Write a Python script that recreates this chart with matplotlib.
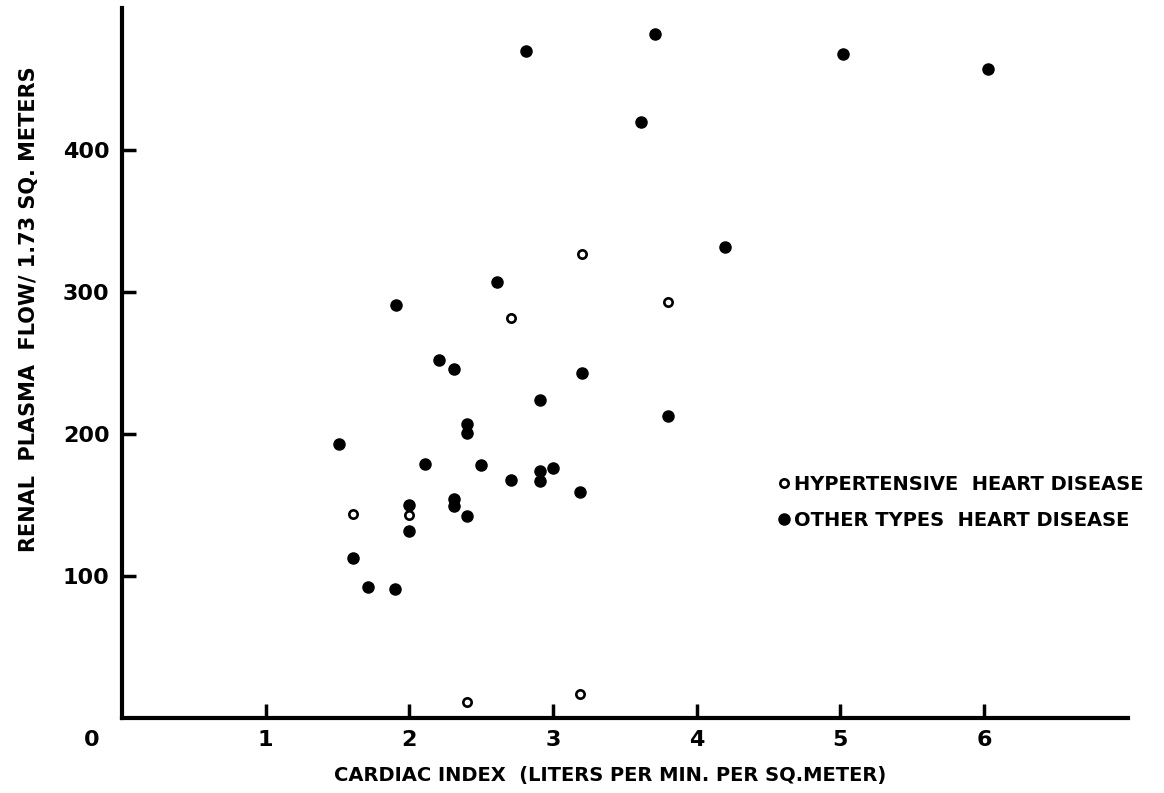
import matplotlib
matplotlib.use("Agg")
from matplotlib import pyplot as plt

# hypertensive heart disease (open circles)
hyp_x = [1.61, 2.00, 2.40, 3.19, 3.20, 3.80, 2.71]
hyp_y = [144, 143, 11, 17, 327, 293, 282]

# other types of heart disease (filled circles)
oth_x = [2.21, 2.31, 3.20, 2.91, 3.80, 2.40, 2.40, 1.51, 2.11, 2.50,
         3.00, 2.91, 2.71, 2.91, 3.19, 2.31, 2.31, 2.00, 2.40, 2.00,
         1.61, 1.71, 1.90, 2.81, 3.71, 3.61, 2.61, 1.91, 5.02, 6.03, 4.20]
oth_y = [252, 246, 243, 224, 213, 207, 201, 193, 179, 178,
         176, 174, 168, 167, 159, 154, 149, 150, 142, 132,
         113, 92, 91, 470, 482, 420, 307, 291, 468, 457, 332]

x_ticks = [1, 2, 3, 4, 5, 6]
y_ticks = [100, 200, 300, 400]

fig = plt.figure(figsize=(11.64, 7.93), dpi=100)
ax = fig.add_axes([0.1048, 0.0946, 0.864, 0.895])

ax.plot(oth_x, oth_y, 'o', color='black', markersize=8, linestyle='none',
        label='OTHER TYPES  HEART DISEASE', zorder=3)
ax.plot(hyp_x, hyp_y, 'o', markerfacecolor='white', markeredgecolor='black',
        markersize=6, markeredgewidth=1.9, linestyle='none',
        label='HYPERTENSIVE  HEART DISEASE', zorder=3)

ax.set_xlim(0, 7.0)
ax.set_ylim(0, 500)
ax.set_xticks(x_ticks)
ax.set_yticks(y_ticks)
ax.tick_params(direction='in', length=10, width=2.5, labelsize=16, pad=9)
for lbl in ax.get_xticklabels() + ax.get_yticklabels():
    lbl.set_fontweight('bold')

for side in ['top', 'right']:
    ax.spines[side].set_visible(False)
for side in ['left', 'bottom']:
    ax.spines[side].set_linewidth(3)

ax.annotate('0', xy=(0, 0), xycoords='data', xytext=(-22, -16),
            textcoords='offset points', ha='center', va='center',
            fontsize=16, fontweight='bold')

ax.set_xlabel('CARDIAC INDEX  (LITERS PER MIN. PER SQ.METER)',
              fontsize=14, fontweight='bold')
ax.xaxis.set_label_coords(0.485, -0.068)
ax.set_ylabel('RENAL  PLASMA  FLOW/ 1.73 SQ. METERS',
              fontsize=15, fontweight='bold')
ax.yaxis.set_label_coords(-0.083, 0.576)

handles, labels = ax.get_legend_handles_labels()
ax.legend(handles[::-1], labels[::-1], frameon=False, loc='upper left',
          bbox_to_anchor=(0.652, 0.343), borderaxespad=0, borderpad=0,
          handlelength=0.6, handletextpad=0.25, labelspacing=0.9,
          prop={'size': 14, 'weight': 'bold'})

fig.savefig('out.png', dpi=100)
